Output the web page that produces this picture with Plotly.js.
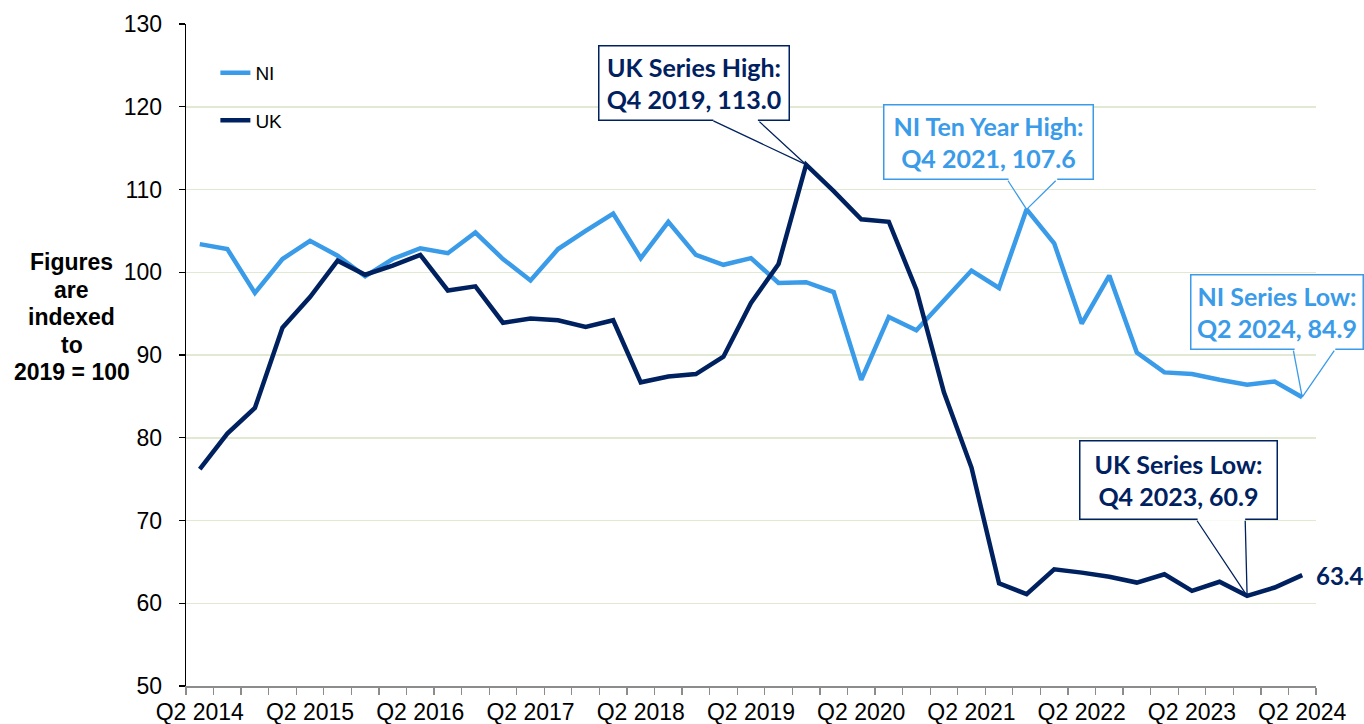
<!DOCTYPE html>
<html>
<head>
<meta charset="utf-8">
<script src="https://cdn.plot.ly/plotly-3.0.1.min.js"></script>
<style>html,body{margin:0;padding:0;background:#fff;}#chart{width:1364px;height:724px;}</style>
</head>
<body>
<div id="chart"></div>
<script>
// ---- data ----
const quarters = ['Q2 2014','Q3 2014','Q4 2014','Q1 2015','Q2 2015','Q3 2015','Q4 2015','Q1 2016','Q2 2016','Q3 2016','Q4 2016','Q1 2017','Q2 2017','Q3 2017','Q4 2017','Q1 2018','Q2 2018','Q3 2018','Q4 2018','Q1 2019','Q2 2019','Q3 2019','Q4 2019','Q1 2020','Q2 2020','Q3 2020','Q4 2020','Q1 2021','Q2 2021','Q3 2021','Q4 2021','Q1 2022','Q2 2022','Q3 2022','Q4 2022','Q1 2023','Q2 2023','Q3 2023','Q4 2023','Q1 2024','Q2 2024'];
const niValues = [103.4,102.8,97.5,101.6,103.8,102.0,99.5,101.6,102.9,102.3,104.8,101.6,99.0,102.8,105.0,107.1,101.7,106.1,102.1,100.9,101.7,98.7,98.8,97.6,87.0,94.6,93.0,96.6,100.2,98.1,107.6,103.5,93.8,99.6,90.3,87.9,87.7,87.0,86.4,86.8,84.9];
const ukValues = [76.2,80.5,83.6,93.3,97.0,101.4,99.7,100.8,102.1,97.8,98.3,93.9,94.4,94.2,93.4,94.2,86.7,87.4,87.7,89.8,96.3,101.0,113.0,109.8,106.4,106.1,97.9,85.5,76.4,62.4,61.1,64.1,63.7,63.2,62.5,63.5,61.5,62.6,60.9,61.9,63.4];
const tickLabels = ['Q2 2014','Q2 2015','Q2 2016','Q2 2017','Q2 2018','Q2 2019','Q2 2020','Q2 2021','Q2 2022','Q2 2023','Q2 2024'];
const yTicks = [50,60,70,80,90,100,110,120,130];
const yTitleLines = ['Figures','are','indexed','to','2019 = 100'];

// ---- styles ----
const NI_COLOR = '#3a9be9';
const UK_COLOR = '#00215f';
const xIdx = quarters.map((q, i) => i);
const tickIdx = tickLabels.map(t => quarters.indexOf(t));

const traces = [
  {x: xIdx, y: niValues, name: 'NI', type: 'scatter', mode: 'lines',
   line: {color: NI_COLOR, width: 4.5}, legendgroup: 'ni', hoverinfo: 'skip'},
  {x: xIdx, y: ukValues, name: 'UK', type: 'scatter', mode: 'lines',
   line: {color: UK_COLOR, width: 4.5}, legendgroup: 'uk', hoverinfo: 'skip'}
];

// callouts: box centre (axis units), box size in px, wedge base x positions, box bottom
const callouts = [
  {label: 'UK Series High:', series: ukValues, q: 'Q4 2019', color: UK_COLOR,
   cx: 17.93, cy: 122.87, w: 189, h: 73, b1: 18.58, b2: 20.25, bottom: 118.37},
  {label: 'NI Ten Year High:', series: niValues, q: 'Q4 2021', color: NI_COLOR,
   cx: 28.62, cy: 115.74, w: 208, h: 73, b1: 29.29, b2: 31.11, bottom: 111.24},
  {label: 'NI Series Low:', series: niValues, q: 'Q2 2024', color: NI_COLOR,
   cx: 39.09, cy: 95.20, w: 171, h: 73, b1: 39.67, b2: 41.20, bottom: 90.70},
  {label: 'UK Series Low:', series: ukValues, q: 'Q4 2023', color: UK_COLOR,
   cx: 35.52, cy: 74.89, w: 196, h: 77, b1: 36.15, b2: 37.93, bottom: 70.15}
];

const annotations = [];
const calloutFont = "Lato, 'Open Sans', sans-serif";
function line(x, y, ax, ay, color, width) {
  return {x: x, y: y, xref: 'x', yref: 'y', ax: ax, ay: ay, axref: 'x', ayref: 'y',
    text: '', showarrow: true, arrowhead: 0, arrowwidth: width, arrowcolor: color,
    standoff: 0, startstandoff: 0, font: {size: 1}};
}
callouts.forEach(c => {
  const i = quarters.indexOf(c.q);
  const v = c.series[i];
  annotations.push({
    x: c.cx, y: c.cy, xref: 'x', yref: 'y', showarrow: false,
    text: '<b>' + c.label + '<br>' + c.q + ', ' + v.toFixed(1) + '</b>',
    font: {family: calloutFont, size: 25, color: c.color},
    bgcolor: '#ffffff', bordercolor: c.color, borderwidth: 1.5, borderpad: 0,
    width: c.w, height: c.h, xanchor: 'center', yanchor: 'middle', align: 'center'
  });
  annotations.push(line(c.b2, c.bottom, c.b1, c.bottom, '#ffffff', 3));
  annotations.push(line(i, v, c.b1, c.bottom, c.color, 1.3));
  annotations.push(line(i, v, c.b2, c.bottom, c.color, 1.3));
});

// last UK value label
const lastI = quarters.length - 1;
annotations.push({
  x: lastI, y: ukValues[lastI], xref: 'x', yref: 'y', showarrow: false,
  text: '<b>' + ukValues[lastI].toFixed(1) + '</b>', xanchor: 'left', yanchor: 'middle',
  xshift: 12, font: {family: calloutFont, size: 24, color: UK_COLOR}
});

// y axis title (horizontal, one annotation per line for tight spacing)
yTitleLines.forEach((t, k) => {
  annotations.push({
    xref: 'paper', yref: 'paper', x: -0.1009, y: 0.557, xanchor: 'center', yanchor: 'middle',
    yshift: -(k - 2) * 27.5, showarrow: false, align: 'center',
    text: '<b>' + t + '</b>',
    font: {family: 'Liberation Sans, Arial, sans-serif', size: 23, color: '#000000'}
  });
});

const layout = {
  width: 1364, height: 724,
  margin: {l: 186, r: 48, t: 24, b: 38},
  paper_bgcolor: '#ffffff', plot_bgcolor: '#ffffff',
  font: {family: 'Liberation Sans, Arial, sans-serif', color: '#000000'},
  showlegend: true,
  legend: {x: 0.026, y: 0.955, xanchor: 'left', yanchor: 'top', bgcolor: 'rgba(0,0,0,0)',
           font: {size: 19, color: '#000000'}, traceorder: 'grouped', tracegroupgap: 20},
  xaxis: {
    range: [-0.5, quarters.length - 0.5], tickmode: 'array', tickvals: tickIdx, ticktext: tickLabels,
    ticks: '', showgrid: false, zeroline: false, showline: true, linecolor: '#8c8c8c', linewidth: 1.5,
    tickfont: {size: 23, color: '#000000'}, ticklabelstandoff: 5,
    minor: {ticks: 'outside', tick0: -0.5, dtick: 1, ticklen: 7, tickcolor: '#8c8c8c', tickwidth: 1.3, showgrid: false},
    fixedrange: true
  },
  yaxis: {
    range: [50, 130], tickmode: 'array', tickvals: yTicks,
    ticks: 'outside', ticklen: 6, tickcolor: '#000000', tickwidth: 1.3,
    showgrid: true, gridcolor: '#e2e9d2', gridwidth: 1.5, zeroline: false,
    showline: true, linecolor: '#000000', linewidth: 1.3,
    tickfont: {size: 23, color: '#000000'}, ticklabelstandoff: 12, fixedrange: true
  },
  annotations: annotations
};

Plotly.newPlot('chart', traces, layout, {displayModeBar: false, staticPlot: true});
</script>
</body>
</html>
